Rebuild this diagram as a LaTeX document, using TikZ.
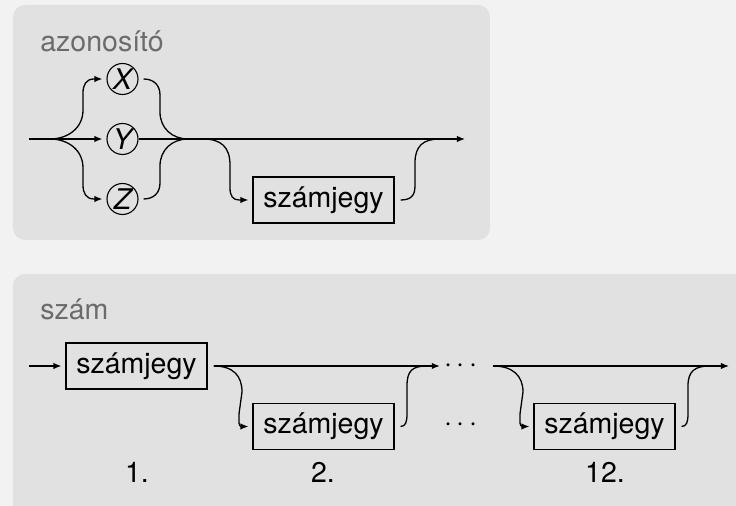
\documentclass[tikz,border=0pt]{standalone}
\usepackage{fontspec}
\setmainfont{TeX Gyre Heros}
\usetikzlibrary{arrows.meta}
\definecolor{outerbg}{HTML}{F2F2F2}
\definecolor{panelbg}{HTML}{E1E1E1}
\definecolor{titlegrey}{HTML}{6B6B6B}
\begin{document}
\begin{tikzpicture}[x=0.5pt,y=-0.5pt,
  every node/.style={font=\fontsize{14.25pt}{17pt}\selectfont},
  panel/.style={fill=panelbg,rounded corners=6pt},
  title/.style={text=titlegrey,anchor=base west,inner sep=0pt},
  term/.style={draw,line width=0.55pt,minimum width=70.5pt,minimum height=23pt,inner sep=0pt},
  letter/.style={draw,circle,line width=0.55pt,minimum size=15.5pt,inner sep=0pt,font=\fontsize{14.25pt}{17pt}\selectfont\itshape},
  conn/.style={line width=0.65pt},
  arr/.style={conn,-{Latex[length=4pt,width=3.2pt]},shorten >=2pt},
  num/.style={anchor=base,inner sep=0pt},
  dotsnode/.style={inner sep=0pt}
]
\useasboundingbox (0,0) rectangle (736,506);
\clip (0,0) rectangle (736,506);
\fill[outerbg] (0,0) rectangle (736,506);
% panels
\fill[panel] (13,5) rectangle (490,240);
\fill[panel] (13,274) rectangle (770,530);

% ---------- azonosító ----------
\node[title] (t1) at (40,52) {azonosító};
\node[letter] (X) at (122.5,79) {X};
\node[letter] (Y) at (122.5,139) {Y};
\node[letter] (Z) at (122.5,199) {Z};
\node[term] (b1) at (323.5,200) {számjegy};
\coordinate (s1) at (29,139);
\coordinate (f1) at (50,139);
\coordinate (j1) at (188,139);
\coordinate (d1) at (203,139);
\coordinate (r1) at (440,139);
\coordinate (e1) at (469,139);

\draw[arr] (s1) -- (Y);
\draw[arr] (f1) .. controls +(18,0) and +(0,18) .. (83,110) -- (83,93)
  .. controls +(0,-8) and +(-8,0) .. (94,79) -- (X);
\draw[arr] (f1) .. controls +(18,0) and +(0,-18) .. (83,168) -- (83,185)
  .. controls +(0,8) and +(-8,0) .. (94,199) -- (Z);
\draw[conn] ([xshift=2.5pt]X.east) .. controls +(10,0) and +(0,-10) .. (160,95) -- (160,112)
  .. controls +(0,16) and +(-16,0) .. (j1);
\draw[conn] ([xshift=2.5pt]Z.east) .. controls +(10,0) and +(0,10) .. (160,183) -- (160,166)
  .. controls +(0,-16) and +(-16,0) .. (j1);
\draw[arr] (Y) -- (e1);
\draw[arr] (d1) .. controls +(18,0) and +(0,-18) .. (230,165) -- (230,188)
  .. controls +(0,8) and +(-6,0) .. (239,200) -- (b1);
\draw[conn] ([xshift=3pt]b1.east) .. controls +(10,0) and +(0,10) .. (415,186) -- (415,163)
  .. controls +(0,-17) and +(-17,0) .. (r1);

% ---------- szám ----------
\node[title] (t2) at (40,320) {szám};
\node[term] (n1) at (136.5,366) {számjegy};
\node[term] (n2) at (323.5,426.5) {számjegy};
\node[term] (n3) at (604.5,426.5) {számjegy};
\node[dotsnode] (dots1) at (461,366) {$\cdots$};
\node[dotsnode] (dots2) at (461,425) {$\cdots$};
\node[num] (l1) at (137,483) {1.};
\node[num] (l2) at (323,483) {2.};
\node[num] (l3) at (605,483) {12.};
\coordinate (s2) at (29,366);
\coordinate (m1) at ([xshift=3pt]n1.east);
\coordinate (m2) at (493,366);
\coordinate (e2) at (733,366);

\draw[arr] (s2) -- (n1);
\draw[arr] (m1) -- (dots1);
\draw[arr] (m1) .. controls +(20,0) and +(0,-16) .. (242,392) -- (239,414)
  .. controls +(0,8) and +(-4,0) .. (242,426.5) -- (n2);
\draw[conn] ([xshift=3pt]n2.east) .. controls +(5,0) and +(0,8) .. (407,414) -- (407,386)
  .. controls +(0,-15) and +(-15,0) .. (427,366);
\draw[arr] (m2) -- (e2);
\draw[arr] (m2) .. controls +(20,0) and +(0,-16) .. (523,392) -- (520,414)
  .. controls +(0,8) and +(-4,0) .. (523,426.5) -- (n3);
\draw[conn] ([xshift=3pt]n3.east) .. controls +(5,0) and +(0,8) .. (688,414) -- (688,386)
  .. controls +(0,-15) and +(-15,0) .. (710,366);
\end{tikzpicture}
\end{document}
